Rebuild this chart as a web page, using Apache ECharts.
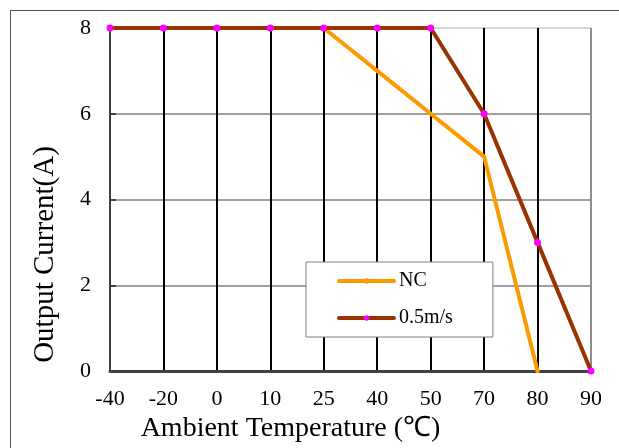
<!DOCTYPE html>
<html><head><meta charset="utf-8">
<script src="https://cdn.jsdelivr.net/npm/echarts@6/dist/echarts.min.js"></script>
<style>html,body{margin:0;padding:0;background:#fff}#c{width:619px;height:448px}</style>
</head><body><div id="c"></div>
<script>
const categories = ['-40','-20','0','10','25','40','50','70','80','90'];
const ncValues = [8,8,8,8,8,7,6,5,0,null];
const airValues = [8,8,8,8,8,8,8,6,3,0];
const yTicks = [0,2,4,6,8];
const seriesNames = ['NC','0.5m/s'];

const chart = echarts.init(document.getElementById('c'), null, {renderer:'canvas'});
const serif = 'Liberation Serif';
const vColors = categories.map((c,i)=> i===categories.length-1 ? '#8c8c8c' : '#000');
const hColors = yTicks.map((t,i)=> i===yTicks.length-1 ? '#c8c8c8' : '#808080');
chart.setOption({
  animation:false,
  backgroundColor:'#fff',
  graphic:[{type:'rect',shape:{x:10.5,y:10.5,width:700,height:500},style:{fill:'none',stroke:'#555',lineWidth:1},z:-1}],
  grid:{left:110,right:28,top:28,bottom:77},
  legend:{
    orient:'vertical',left:306,top:262,
    backgroundColor:'#fff',borderColor:'#808080',borderWidth:1,
    padding:[9,40,9,31],
    itemWidth:55,itemHeight:7,itemGap:17,
    lineStyle:{width:4,cap:'round'},
    textStyle:{fontFamily:serif,fontSize:20,color:'#000'},
    data:seriesNames
  },
  xAxis:{
    type:'category',data:categories,boundaryGap:false,
    axisLine:{lineStyle:{color:'#404040',width:3}},
    axisTick:{show:false},
    axisLabel:{fontFamily:serif,fontSize:22,color:'#000',margin:17,interval:0},
    splitLine:{show:true,interval:0,lineStyle:{color:vColors,width:2}},
    name:'Ambient Temperature (℃)',nameLocation:'middle',nameGap:42,
    nameTextStyle:{fontFamily:serif,fontSize:28,color:'#000',padding:[0,120,0,0]}
  },
  yAxis:{
    type:'value',min:0,max:8,interval:2,
    axisLine:{show:true,lineStyle:{color:'#404040',width:2}},
    axisTick:{show:true,inside:true,length:6,lineStyle:{color:'#404040',width:2}},
    axisLabel:{fontFamily:serif,fontSize:22,color:'#000',margin:19},
    splitLine:{show:true,lineStyle:{color:hColors,width:1.5}},
    name:'Output Current(A)',nameLocation:'middle',nameGap:50,
    nameTextStyle:{fontFamily:serif,fontSize:29,color:'#000',padding:[0,110,0,0]}
  },
  series:[
    {name:seriesNames[0],type:'line',data:ncValues,
     lineStyle:{color:'#FF9900',width:4,cap:'round'},
     itemStyle:{color:'#FF9900'},symbol:'circle',symbolSize:4,showSymbol:true,z:2},
    {name:seriesNames[1],type:'line',data:airValues,
     lineStyle:{color:'#993300',width:4,cap:'round'},
     itemStyle:{color:'#FF00FF'},symbol:'circle',symbolSize:7,z:3}
  ]
});
</script></body></html>
